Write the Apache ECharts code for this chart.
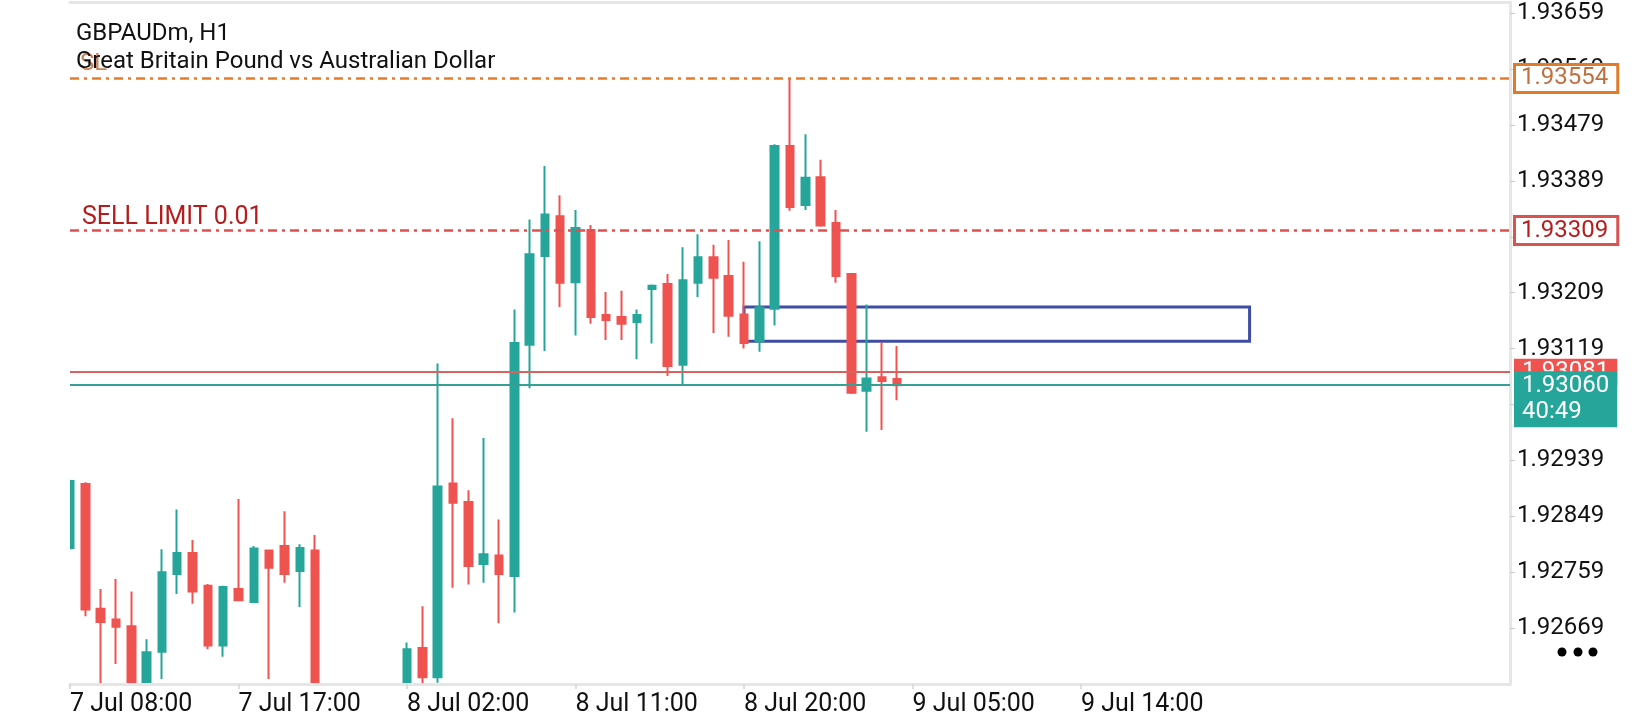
<!DOCTYPE html>
<html><head><meta charset="utf-8">
<script src="https://cdn.jsdelivr.net/npm/echarts@6/dist/echarts.min.js"></script>
<style>html,body{margin:0;padding:0;background:#fff;}#c{width:1640px;height:720px;}</style>
</head><body><div id="c"></div>
<script>
// ---- data ----
const titleLines = ['GBPAUDm, H1', 'Great Britain Pound vs Australian Dollar'];
const barCount = 95; // bar slots on the x axis (H1 bars, incl. empty future area)
const categories = Array.from({length: barCount}, (_, i) => String(i));
const xTickIndex = [0, 11, 22, 33, 44, 55, 66];
const xTickLabels = ['7 Jul 08:00', '7 Jul 17:00', '8 Jul 02:00', '8 Jul 11:00', '8 Jul 20:00', '9 Jul 05:00', '9 Jul 14:00'];

const opens  = [1.92798,1.92901,1.92700,1.92683,1.92672,1.92570,1.92631,1.92756,1.92790,1.92737,1.92641,1.92732,1.92711,1.92794,1.92801,1.92761,1.92794,1.92540,1.92510,1.92530,1.92500,1.92545,1.92560,1.92637,1.92590,1.92902,1.92872,1.92772,1.92786,1.92753,1.93125,1.93268,1.93332,1.93226,1.93310,1.93173,1.93170,1.93162,1.93215,1.93223,1.93093,1.93225,1.93266,1.93236,1.93174,1.93131,1.93183,1.93445,1.93350,1.93395,1.93321,1.93239,1.93051,1.93073,1.93070];
const closes = [1.92906,1.92699,1.92679,1.92671,1.92560,1.92630,1.92759,1.92790,1.92728,1.92641,1.92735,1.92714,1.92797,1.92766,1.92756,1.92798,1.92540,1.92510,1.92530,1.92500,1.92545,1.92560,1.92635,1.92590,1.92897,1.92871,1.92769,1.92788,1.92756,1.93128,1.93271,1.93335,1.93225,1.93313,1.93170,1.93165,1.93159,1.93173,1.93220,1.93091,1.93229,1.93266,1.93233,1.93172,1.93128,1.93185,1.93445,1.93347,1.93394,1.93317,1.93236,1.93048,1.93071,1.93067,1.93060];
const highs  = [1.92908,1.92904,1.92732,1.92748,1.92728,1.92651,1.92796,1.92860,1.92811,1.92740,1.92737,1.92877,1.92801,1.92794,1.92857,1.92804,1.92819,1.92560,1.92555,1.92550,1.92565,1.92572,1.92646,1.92704,1.93095,1.93007,1.92891,1.92975,1.92844,1.93182,1.93327,1.93413,1.93366,1.93342,1.93318,1.93210,1.93212,1.93182,1.93222,1.93239,1.93282,1.93303,1.93286,1.93294,1.93259,1.93292,1.93448,1.93554,1.93464,1.93423,1.93342,1.93239,1.93190,1.93129,1.93123];
const lows   = [1.92795,1.92688,1.92560,1.92611,1.92545,1.92560,1.92587,1.92724,1.92708,1.92635,1.92623,1.92714,1.92711,1.92587,1.92742,1.92703,1.92520,1.92480,1.92490,1.92470,1.92490,1.92520,1.92550,1.92570,1.92581,1.92734,1.92739,1.92742,1.92677,1.92694,1.93055,1.93115,1.93186,1.93140,1.93159,1.93133,1.93133,1.93102,1.93127,1.93075,1.93062,1.93202,1.93144,1.93138,1.93119,1.93114,1.93156,1.93341,1.93342,1.93315,1.93225,1.93046,1.92985,1.92988,1.93036];

const slPrice = 1.93554;
const sellLimitPrice = 1.93309;
const sellLimitText = 'SELL LIMIT 0.01';
const askPrice = 1.93081;
const bidPrice = 1.93060;
const timerText = '40:49';
const zoneTop = 1.93186, zoneBottom = 1.93131, zoneStart = '44', zoneEnd = '77';

const yMin = 1.92579, yMax = 1.93677, yInterval = 0.0009;

// ---- chart ----
const candleData = opens.map((o, i) => [o, closes[i], lows[i], highs[i]]);
const font = 'Roboto';
const tickInterval = (index) => xTickIndex.indexOf(index) >= 0;
const hiddenLine = {color: 'rgba(0,0,0,0)', width: 0};

const chart = echarts.init(document.getElementById('c'));
chart.setOption({
  animation: false,
  backgroundColor: '#ffffff',
  title: {
    text: titleLines.join('\n'), left: 76, top: 20, padding: 0, z: 10,
    textStyle: {fontFamily: font, fontSize: 24, fontWeight: 'normal', color: '#111', lineHeight: 28}
  },
  grid: {left: 70, right: 130, top: 2, bottom: 36},
  xAxis: [{
    type: 'category', data: categories, boundaryGap: false, z: 6,
    axisLine: {onZero: false, lineStyle: {color: '#e6e6e6', width: 3}},
    axisTick: {show: true, interval: tickInterval, length: 5, lineStyle: {color: '#dcdcdc', width: 2}},
    axisLabel: {
      interval: tickInterval, align: 'left', margin: 8,
      fontFamily: font, fontSize: 25, color: '#111',
      formatter: (v, idx) => { const k = xTickIndex.indexOf(idx); return k >= 0 ? xTickLabels[k] : ''; }
    },
    splitLine: {show: false}
  }, {
    type: 'category', data: categories, boundaryGap: false, position: 'top', z: 6,
    axisLine: {onZero: false, lineStyle: {color: '#e6e6e6', width: 3}},
    axisTick: {show: false}, axisLabel: {show: false}, splitLine: {show: false}
  }],
  yAxis: {
    type: 'value', position: 'right', min: yMin, max: yMax, interval: yInterval, z: 1,
    axisLine: {show: true, lineStyle: {color: '#e6e6e6', width: 3}},
    axisTick: {show: true, length: 5, lineStyle: {color: '#cccccc'}},
    axisLabel: {showMinLabel: false, showMaxLabel: false, margin: 7, fontFamily: font, fontSize: 24, color: '#111',
      formatter: v => v.toFixed(5)},
    splitLine: {show: false}
  },
  graphic: [
    // white masks: keep candles that run past the plot edges from showing outside it
    {type: 'rect', z: 4, silent: true, shape: {x: 0, y: 685, width: 1508, height: 35}, style: {fill: '#fff'}},
    {type: 'rect', z: 4, silent: true, shape: {x: 0, y: 0, width: 70, height: 685}, style: {fill: '#fff'}},
    {type: 'circle', z: 6, shape: {cx: 1562, cy: 652, r: 4.5}, style: {fill: '#000'}},
    {type: 'circle', z: 6, shape: {cx: 1578, cy: 652, r: 4.5}, style: {fill: '#000'}},
    {type: 'circle', z: 6, shape: {cx: 1593, cy: 652, r: 4.5}, style: {fill: '#000'}}
  ],
  series: [{
    type: 'candlestick', data: candleData, barWidth: 8, clip: true, z: 2,
    itemStyle: {color: '#26a69a', color0: '#ef5350', borderColor: '#26a69a', borderColor0: '#ef5350', borderWidth: 2},
    markArea: {
      silent: true,
      itemStyle: {color: 'rgba(0,0,0,0)', borderColor: '#3f4ea3', borderWidth: 3},
      data: [[{xAxis: zoneStart, yAxis: zoneTop}, {xAxis: zoneEnd, yAxis: zoneBottom}]]
    },
    markLine: {
      symbol: ['none', 'none'], silent: true, animation: false, precision: 5,
      data: [
        {yAxis: slPrice, lineStyle: {color: '#e57c2b', width: 2.5, type: [9, 5, 3, 5]},
          label: {show: true, position: 'insideStartTop', formatter: 'SL', distance: [10, 2],
            color: 'rgba(196,110,60,0.85)', fontFamily: font, fontSize: 24}},
        {yAxis: sellLimitPrice, lineStyle: {color: '#df5050', width: 2.5, type: [9, 5, 3, 5]},
          label: {show: true, position: 'insideStartTop', formatter: sellLimitText, distance: [12, 0],
            color: '#b71c1c', fontFamily: font, fontSize: 25}},
        {yAxis: askPrice, lineStyle: {color: '#d8625d', width: 1.8, type: 'solid'},
          label: {show: true, position: 'end', formatter: askPrice.toFixed(5), distance: 4,
            color: '#fff', backgroundColor: '#ef5350', padding: [1, 8, 1, 8], lineHeight: 25,
            fontFamily: font, fontSize: 24}},
        {yAxis: bidPrice, lineStyle: {color: '#37a095', width: 1.8, type: 'solid'},
          label: {show: true, position: 'end', formatter: bidPrice.toFixed(5) + '\n' + timerText, distance: 4,
            offset: [0, 14], color: '#fff', backgroundColor: '#26a69a', padding: [2, 8, 2, 8], lineHeight: 26,
            fontFamily: font, fontSize: 24}},
        {yAxis: slPrice, lineStyle: hiddenLine,
          label: {show: true, position: 'end', formatter: slPrice.toFixed(5), distance: 6,
            color: '#c0703e', backgroundColor: '#fff', borderColor: '#e07b2a', borderWidth: 3,
            padding: [1, 8, 0, 5], lineHeight: 24, fontFamily: font, fontSize: 24}},
        {yAxis: sellLimitPrice, lineStyle: hiddenLine,
          label: {show: true, position: 'end', formatter: sellLimitPrice.toFixed(5), distance: 6,
            color: '#b71c1c', backgroundColor: '#fff', borderColor: '#d9534f', borderWidth: 3,
            padding: [1, 8, 0, 5], lineHeight: 24, fontFamily: font, fontSize: 24}}
      ]
    }
  }]
});
</script>
</body></html>
